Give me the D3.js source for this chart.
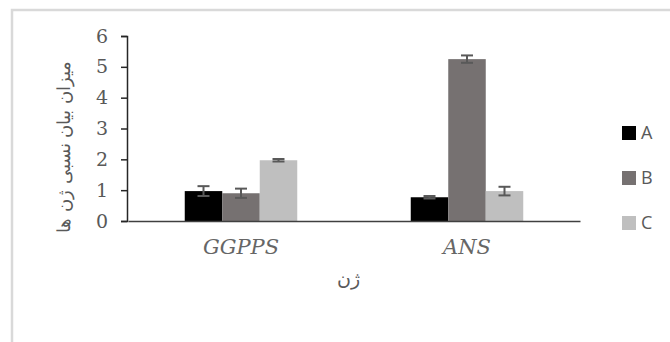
<!DOCTYPE html>
<html>
<head>
<meta charset="utf-8">
<script src="https://cdn.jsdelivr.net/npm/d3@7"></script>
<style>
  body { margin: 0; background: #fff; }
</style>
</head>
<body>
<div id="chart"></div>
<script>
// data
const genes = ["GGPPS", "ANS"];
const series = ["A", "B", "C"];
const valuesA = [0.97, 0.77];
const valuesB = [0.90, 5.25];
const valuesC = [1.97, 0.97];
const errA = [0.16, 0.04];
const errB = [0.15, 0.12];
const errC = [0.04, 0.14];
const yTicks = [0, 1, 2, 3, 4, 5, 6];

const colors = { A: "#000000", B: "#767171", C: "#bfbfbf" };

const rows = [];
genes.forEach((g, i) => {
  rows.push({ gene: g, key: "A", v: valuesA[i], e: errA[i] });
  rows.push({ gene: g, key: "B", v: valuesB[i], e: errB[i] });
  rows.push({ gene: g, key: "C", v: valuesC[i], e: errC[i] });
});

const width = 670, height = 342;
const svg = d3.select("#chart").append("svg")
  .attr("width", width)
  .attr("height", height);

// chart frame
svg.append("rect")
  .attr("x", 12).attr("y", 10)
  .attr("width", 680).attr("height", 360)
  .attr("fill", "#fff")
  .attr("stroke", "#d9d9d9")
  .attr("stroke-width", 2.5);

// scales
const x0 = d3.scaleBand().domain(genes).range([128, 580]);
const x1 = d3.scaleBand().domain(series).range([0, 112.5]);
const y = d3.scaleLinear().domain([0, 6]).range([221, 36]);

const groupX = g => x0(g) + x0.bandwidth() / 2 - 56.25;

// y axis
const yAxis = svg.append("g")
  .attr("transform", "translate(127,0)")
  .call(d3.axisLeft(y).tickValues(yTicks).tickFormat(d3.format("d")).tickSize(6).tickPadding(13));
yAxis.attr("font-family", "DejaVu Serif").attr("font-size", 19);
yAxis.select(".domain").attr("stroke", "#262626").attr("stroke-width", 1.5);
yAxis.selectAll(".tick line").attr("stroke", "#262626").attr("stroke-width", 1.5);
yAxis.selectAll(".tick text").attr("fill", "#595959");

// bars
svg.append("g").selectAll("rect")
  .data(rows)
  .join("rect")
  .attr("x", d => groupX(d.gene) + x1(d.key))
  .attr("y", d => y(d.v))
  .attr("width", x1.bandwidth())
  .attr("height", d => y(0) - y(d.v))
  .attr("fill", d => colors[d.key]);

// error bars
const eb = svg.append("g")
  .attr("stroke", "#595959")
  .attr("stroke-width", 2);
rows.forEach(d => {
  const cx = groupX(d.gene) + x1(d.key) + x1.bandwidth() / 2;
  eb.append("line").attr("x1", cx).attr("x2", cx)
    .attr("y1", y(d.v + d.e)).attr("y2", y(d.v - d.e));
  eb.append("line").attr("x1", cx - 6).attr("x2", cx + 6)
    .attr("y1", y(d.v + d.e)).attr("y2", y(d.v + d.e));
  eb.append("line").attr("x1", cx - 6).attr("x2", cx + 6)
    .attr("y1", y(d.v - d.e)).attr("y2", y(d.v - d.e));
});

// x axis
const xAxis = svg.append("g")
  .attr("transform", "translate(0,221)")
  .call(d3.axisBottom(x0).tickSize(0).tickPadding(18));
xAxis.attr("font-family", "DejaVu Serif").attr("font-size", 21).attr("font-style", "italic");
xAxis.select(".domain").attr("stroke", "#404040").attr("stroke-width", 1.5);
xAxis.selectAll(".tick text").attr("fill", "#666666");

// axis titles
svg.append("text")
  .attr("transform", "translate(70,147) rotate(-90)")
  .attr("text-anchor", "middle")
  .attr("fill", "#595959")
  .attr("font-family", "DejaVu Serif")
  .attr("font-size", 18)
  .text("میزان بیان نسبی ژن ها");

svg.append("text")
  .attr("x", 348).attr("y", 285)
  .attr("text-anchor", "middle")
  .attr("fill", "#595959")
  .attr("font-family", "DejaVu Serif")
  .attr("font-size", 19)
  .text("ژن");

// legend
const legendY = [133, 178, 223];
const legend = svg.append("g");
series.forEach((s, i) => {
  legend.append("rect")
    .attr("x", 622).attr("y", legendY[i] - 7)
    .attr("width", 14).attr("height", 14)
    .attr("fill", colors[s]);
  legend.append("text")
    .attr("x", 641).attr("y", legendY[i])
    .attr("dy", "0.35em")
    .attr("fill", "#595959")
    .attr("font-family", "Open Sans")
    .attr("font-size", 18)
    .text(s);
});
</script>
</body>
</html>
